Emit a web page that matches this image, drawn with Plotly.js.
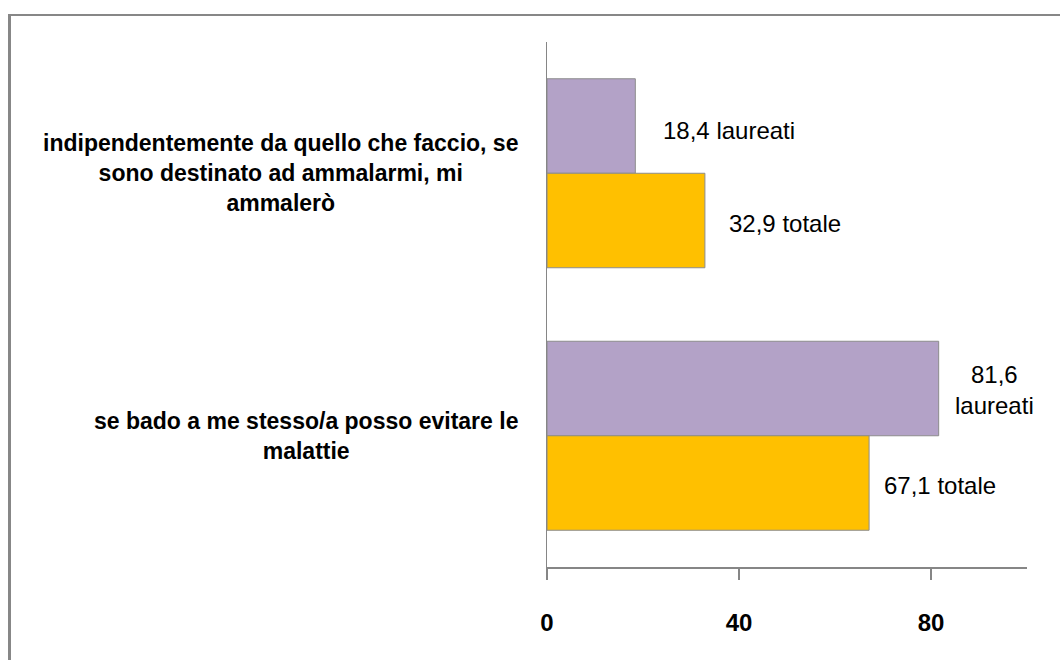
<!DOCTYPE html>
<html>
<head>
<meta charset="utf-8">
<script src="https://cdn.plot.ly/plotly-3.0.1.min.js"></script>
<style>
  html, body { margin: 0; padding: 0; background: #fff; overflow: hidden; }
  #chart { position: absolute; left: 0; top: 0; width: 1060px; height: 660px; }
  #frame { position: absolute; left: 8px; top: 14px; width: 1200px; height: 800px;
           border-left: 3px solid #878787; border-top: 2px solid #878787; pointer-events: none; }
</style>
</head>
<body>
<div id="chart"></div>
<div id="frame"></div>
<script>
// Data
var categories = [
  "indipendentemente da quello che faccio, se<br>sono destinato ad ammalarmi, mi<br>ammalerò",
  "se bado a me stesso/a posso evitare le<br>malattie"
];
var laureati = [18.4, 81.6];
var totale = [32.9, 67.1];
var laureatiLabels = ["18,4 laureati", "81,6<br>laureati"];
var totaleLabels = ["32,9 totale", "67,1 totale"];
var xTicks = [0, 40, 80];

var FONT = "'Liberation Sans', Arial, sans-serif";
var laureatiShift = [26, 14];
var totaleShift = [22, 13];

var traces = [
  {
    type: 'bar', orientation: 'h', name: 'laureati',
    y: categories, x: laureati,
    marker: { color: '#B3A2C7', line: { color: '#8C8C8C', width: 1 } },
    hoverinfo: 'none'
  },
  {
    type: 'bar', orientation: 'h', name: 'totale',
    y: categories, x: totale,
    marker: { color: '#FFC000', line: { color: '#8C8C8C', width: 1 } },
    hoverinfo: 'none'
  }
];

var annotations = [];
// category labels (centered multi-line)
categories.forEach(function (c) {
  annotations.push({
    xref: 'paper', yref: 'y', x: 0, y: c, xanchor: 'right', yanchor: 'middle',
    xshift: -27, align: 'center', showarrow: false, text: c,
    font: { family: FONT, size: 23, color: '#000', weight: 'bold' }
  });
});
// data labels
categories.forEach(function (c, i) {
  annotations.push({
    xref: 'x', yref: 'y', x: laureati[i], y: c, xanchor: 'left', yanchor: 'middle',
    xshift: laureatiShift[i], yshift: i === 1 ? 46 : 43, align: 'center', showarrow: false,
    text: laureatiLabels[i], font: { family: FONT, size: 24, color: '#000' }
  });
  annotations.push({
    xref: 'x', yref: 'y', x: totale[i], y: c, xanchor: 'left', yanchor: 'middle',
    xshift: totaleShift[i], yshift: -50, align: 'center', showarrow: false,
    text: totaleLabels[i], font: { family: FONT, size: 24, color: '#000' }
  });
});

var layout = {
  width: 1060, height: 660,
  margin: { l: 547, r: 33, t: 42, b: 93 },
  paper_bgcolor: '#fff', plot_bgcolor: '#fff',
  showlegend: false,
  barmode: 'group', bargap: 0.28, bargroupgap: 0,
  xaxis: {
    range: [0, 100], tickvals: xTicks, ticktext: xTicks.map(String),
    showgrid: false, zeroline: false,
    showline: true, linecolor: '#868686', linewidth: 2,
    ticks: 'outside', ticklen: 11, tickcolor: '#868686', tickwidth: 2,
    tickfont: { family: FONT, size: 24, color: '#000', weight: 'bold' },
    ticklabelstandoff: 22, fixedrange: true
  },
  yaxis: {
    autorange: 'reversed', showticklabels: false,
    showgrid: false, zeroline: false,
    showline: true, linecolor: '#868686', linewidth: 1,
    ticks: '', fixedrange: true
  },
  annotations: annotations
};

Plotly.newPlot('chart', traces, layout, { displayModeBar: false, staticPlot: true });
</script>
</body>
</html>
